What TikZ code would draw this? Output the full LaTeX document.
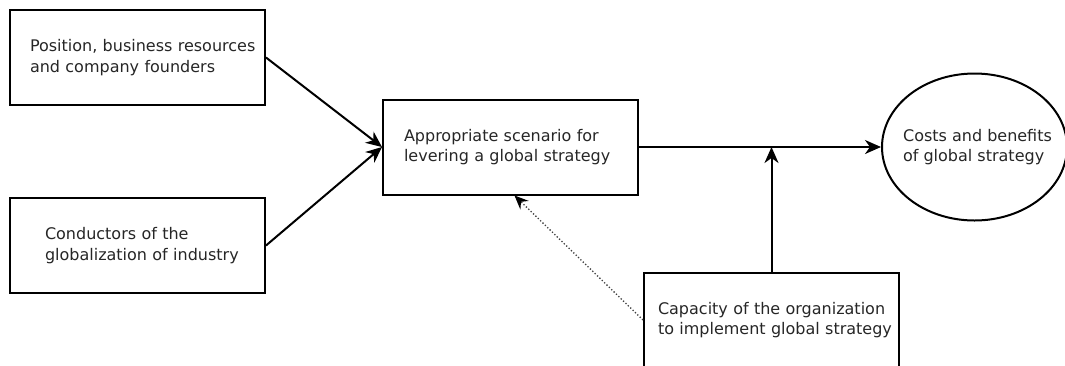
\documentclass[tikz,border=0pt]{standalone}
\usepackage{fontspec}
\setmainfont{DejaVu Sans}
\usetikzlibrary{positioning, shapes.geometric, arrows.meta}

\begin{document}
\begin{tikzpicture}[
        font=\fontsize{16pt}{20.5pt}\selectfont,
        box/.style={rectangle, draw=black, line width=2pt, minimum width=255pt, minimum height=95pt, text width=255pt, inner sep=0pt, align=left, text=black!85},
        textpad/.style={execute at begin node={\leftskip=#1\relax}},
        arrow/.style={-{Stealth[length=16pt, width=14pt, inset=5pt]}, line width=2pt},
        dotarrow/.style={-{Stealth[length=14pt, width=12pt, inset=5pt, black, line width=1pt]}, dotted, line width=1.3pt, draw=black!75}
        ]
        \useasboundingbox (0,0) rectangle (1065pt,-365pt);
        \clip (0,0) rectangle (1065pt,-365pt);

        \node[box, textpad=20pt] (position) at (137.5pt,-57.5pt) {Position, business resources\\and company founders};
        \node[box, textpad=35pt, below=91pt of position] (conductors) {Conductors of the\\globalization of industry};
        \node[box, textpad=21pt] (scenario) at (510.5pt,-147pt) {Appropriate scenario for\\levering a global strategy};
        \node[box, textpad=14pt, below right=76pt and 4pt of scenario] (capacity) {Capacity of the organization\\to implement global strategy};
        \node[ellipse, draw=black, line width=2pt, minimum width=185pt, minimum height=147pt, right=242pt of scenario,
              label={[align=left, xshift=3pt, text=black!85]center:Costs and benefits\\of global strategy}] (costs) {};

        \draw[arrow] (position.east) -- (scenario.west);
        \draw[arrow] (conductors.east) -- (scenario.west);
        \draw[arrow] (scenario.east) -- (costs.west);
        \draw[arrow] (capacity.north) -- (capacity.north |- scenario.east);
        \draw[dotarrow] (capacity.west) -- ([xshift=4pt]scenario.south);
    \end{tikzpicture}
\end{document}
